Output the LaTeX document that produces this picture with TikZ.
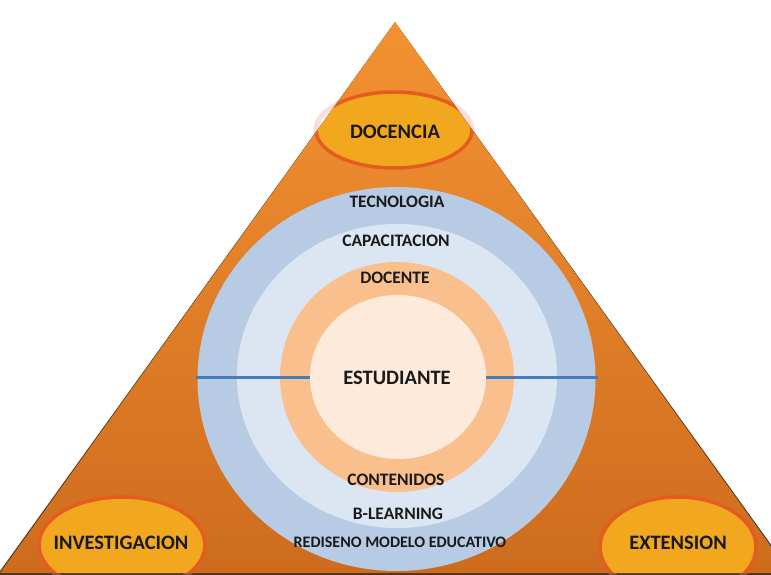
\documentclass[tikz,border=0pt]{standalone}
\usepackage{fontspec}
\setmainfont{Carlito}
\definecolor{triTop}{RGB}{243,146,50}
\definecolor{triBot}{RGB}{206,108,30}
\definecolor{ringA}{RGB}{183,204,228}
\definecolor{ringB}{RGB}{220,230,242}
\definecolor{ringC}{RGB}{249,192,142}
\definecolor{ringD}{RGB}{253,234,219}
\definecolor{capFill}{RGB}{241,168,30}
\definecolor{capEdge}{RGB}{228,92,32}
\definecolor{capGlow}{RGB}{240,150,160}
\definecolor{barBlue}{RGB}{74,122,188}
\definecolor{txt}{RGB}{25,25,25}
\tikzset{
  lbl/.style={font=\bfseries\fontsize{17.5}{18}\selectfont, text=txt, inner sep=0pt},
  biglbl/.style={font=\bfseries\fontsize{20.5}{21}\selectfont, text=txt, inner sep=0pt},
  smalllbl/.style={font=\bfseries\fontsize{16}{17}\selectfont, text=txt, inner sep=0pt},
  glow/.style={draw=capGlow, line width=5pt, opacity=0.3},
  capsule/.style={fill=capFill, draw=capEdge, line width=3.5pt},
  bar/.style={draw=barBlue, line width=3pt}
}
\begin{document}
\begin{tikzpicture}[x=1pt,y=-1pt]
\useasboundingbox (0,0) rectangle (771,575);
\fill[white] (0,0) rectangle (771,575);
% triangle with shadow base
\fill[black!60!brown] (-5,578) -- (395,22) -- (795,578) -- cycle;
\shade[top color=triTop, bottom color=triBot] (0,573) -- (395,22) -- (790,573) -- cycle;
% rings
\fill[ringA] (396.5,379) ellipse [x radius=199, y radius=192];
\fill[ringB] (397,376) ellipse [x radius=160, y radius=152];
\fill[ringC] (397,377) ellipse [x radius=117, y radius=115];
\fill[ringD] (398,377) ellipse [x radius=88, y radius=82];
% horizontal bars
\coordinate (l1) at (196,377);
\coordinate (l2) at (310,377);
\coordinate (r1) at (486,377);
\coordinate (r2) at (598,377);
\draw[bar] (l1) -- (l2);
\draw[bar] (r1) -- (r2);
% corner ellipses
\begin{scope}[even odd rule]
\clip (-10,-10) rectangle (800,600) (0,573) -- (395,22) -- (790,573) -- cycle;
\draw[glow] (394,130) ellipse [x radius=78, y radius=38];
\draw[glow] (122,545) ellipse [x radius=83, y radius=48];
\draw[glow] (678,547) ellipse [x radius=78, y radius=50];
\end{scope}
\begin{scope}
\clip (0,573) -- (395,22) -- (790,573) -- cycle;
\filldraw[capsule] (394,130) ellipse [x radius=78, y radius=38];
\filldraw[capsule] (122,545) ellipse [x radius=83, y radius=48];
\filldraw[capsule] (678,547) ellipse [x radius=78, y radius=50];
\end{scope}
% labels
\node[biglbl] (docencia) at (395,132) {DOCENCIA};
\node[biglbl] (invest) at (121,543) {INVESTIGACION};
\node[biglbl] (ext) at (678,543) {EXTENSION};
\node[lbl] (tec) at (397,202) {TECNOLOGIA};
\node[lbl] (cap) at (396,241) {CAPACITACION};
\node[lbl] (doc) at (395,278) {DOCENTE};
\node[biglbl] (est) at (397,378) {ESTUDIANTE};
\node[lbl] (cont) at (396,480) {CONTENIDOS};
\node[lbl] (bl) at (398,514) {B-LEARNING};
\node[smalllbl] (red) at (400,542) {REDISENO MODELO EDUCATIVO};
\end{tikzpicture}
\end{document}
